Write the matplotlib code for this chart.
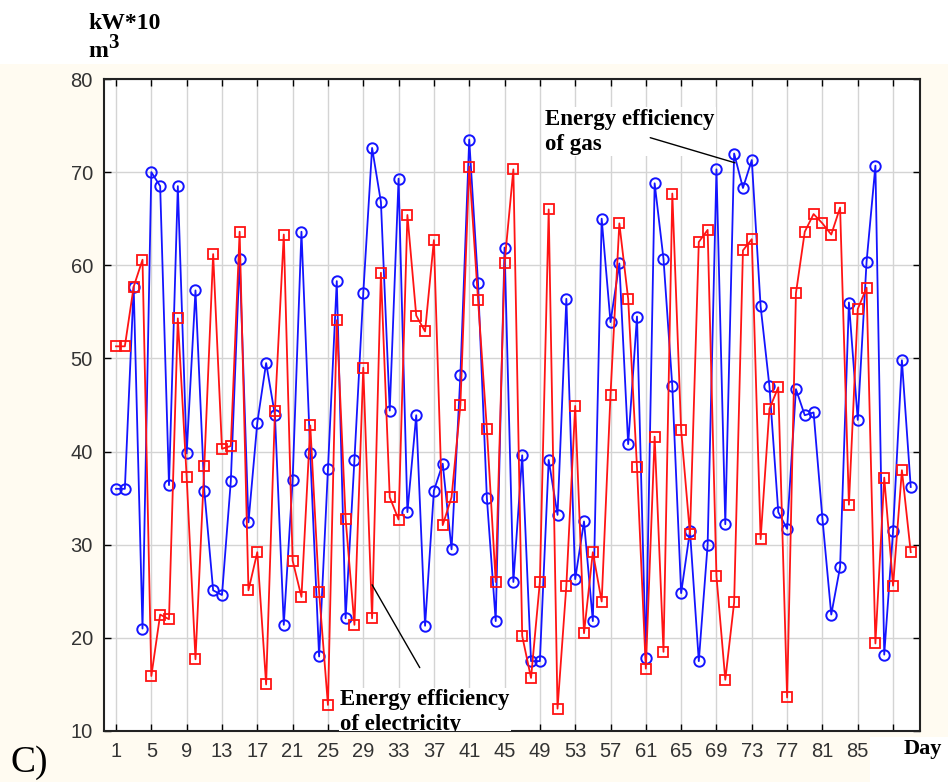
import matplotlib
matplotlib.use("Agg")
import matplotlib.pyplot as plt
from matplotlib.patches import Rectangle

days = list(range(1, 92))
gas = [36.0, 36.0, 57.7, 21.0, 70.0, 68.5, 36.4, 68.5, 39.8, 57.3,
       35.8, 25.1, 24.6, 36.8, 60.7, 32.4, 43.1, 49.5, 43.9, 21.4,
       36.9, 63.6, 39.8, 18.0, 38.1, 58.3, 22.1, 39.1, 57.0, 72.6,
       66.8, 44.4, 69.3, 33.5, 43.9, 21.3, 35.8, 38.7, 29.5, 48.2,
       73.5, 58.1, 35.0, 21.8, 61.9, 26.0, 39.6, 17.5, 17.5, 39.1,
       33.2, 56.4, 26.3, 32.5, 21.8, 65.0, 53.9, 60.2, 40.8, 54.5,
       17.8, 68.8, 60.7, 47.0, 24.8, 31.5, 17.5, 30.0, 70.3, 32.2,
       72.0, 68.3, 71.3, 55.6, 47.0, 33.5, 31.7, 46.7, 43.9, 44.2,
       32.8, 22.5, 27.6, 56.0, 43.4, 60.4, 70.7, 18.2, 31.5, 49.8,
       36.2]
electricity = [51.3, 51.3, 57.7, 60.6, 15.9, 22.5, 22.0, 54.3, 37.3, 17.7,
               38.5, 61.2, 40.3, 40.6, 63.6, 25.1, 29.2, 15.0, 44.4, 63.3,
               28.3, 24.4, 42.8, 24.9, 12.8, 54.1, 32.8, 21.4, 49.0, 22.1,
               59.2, 35.1, 32.7, 65.4, 54.6, 52.9, 62.7, 32.1, 35.1, 45.0,
               70.6, 56.3, 42.4, 26.0, 60.2, 70.3, 20.2, 15.7, 26.0, 66.0,
               12.4, 25.6, 44.9, 20.5, 29.2, 23.9, 46.1, 64.5, 56.4, 38.3,
               16.7, 41.6, 18.5, 67.7, 42.3, 31.1, 62.5, 63.8, 26.6, 15.5,
               23.8, 61.6, 62.8, 30.6, 44.6, 46.9, 13.6, 57.0, 63.6, 65.5,
               64.5, 63.3, 66.2, 34.3, 55.3, 57.6, 19.4, 37.2, 25.6, 38.0,
               29.2]
xticks = list(range(1, 90, 4))
xticklabels = [str(t) if t <= 85 else "" for t in xticks]
yticks = list(range(10, 81, 10))

cream = "#fffbf1"
fig = plt.figure(figsize=(9.48, 7.82), dpi=100, facecolor=cream)
fig.patches.append(Rectangle((0, 1 - 64 / 782), 1, 64 / 782, transform=fig.transFigure,
                             facecolor="white", edgecolor="none", zorder=0))
fig.patches.append(Rectangle((870 / 948, 0), 78 / 948, 45 / 782, transform=fig.transFigure,
                             facecolor="white", edgecolor="none", zorder=0))

ax = fig.add_axes([104 / 948, 1 - 731 / 782, (920 - 104) / 948, (731 - 79) / 782])
ax.set_facecolor("white")

ax.plot(days, gas, color="#1414ff", lw=1.3, marker="o", ms=7.5, mfc="none",
        mec="#1414ff", mew=1.4, zorder=3)
ax.plot(days, electricity, color="#ff1414", lw=1.3, marker="s", ms=7.5, mfc="none",
        mec="#ff1414", mew=1.3, zorder=3)

ax.set_xlim(-0.36, 92.05)
ax.set_ylim(10, 80)
ax.set_xticks(xticks)
ax.set_xticklabels(xticklabels)
ax.set_yticks(yticks)
ax.grid(True, color="#d4d4d4", lw=1.0, zorder=0)
ax.tick_params(direction="in", length=5, width=1, top=True, right=True,
               labelsize=14.5, labelcolor="#333333", pad=8)
for lab in ax.get_xticklabels() + ax.get_yticklabels():
    lab.set_family(["Liberation Sans", "DejaVu Sans"])
for s in ax.spines.values():
    s.set_linewidth(1.5)
    s.set_color("#222222")

serif = ["Liberation Serif", "DejaVu Serif"]
ax.text(49.6, 72.4, "Energy efficiency\nof gas", fontsize=16.5, fontweight="bold",
        family=serif, ha="left", va="baseline", linespacing=1.25,
        bbox=dict(facecolor="white", edgecolor="none", pad=1), zorder=5)
ax.annotate("", xy=(71.1, 71.0), xytext=(61.5, 73.7),
            arrowprops=dict(arrowstyle="-", color="black", lw=1.0,
                            shrinkA=0, shrinkB=0), zorder=5)
ax.text(26.4, 10.1, "Energy efficiency\nof electricity", fontsize=16.5, fontweight="bold",
        family=serif, ha="left", va="baseline", linespacing=1.25,
        bbox=dict(facecolor="white", edgecolor="none", pad=1), zorder=5, clip_on=True)
ax.annotate("", xy=(30.0, 25.7), xytext=(35.4, 16.8),
            arrowprops=dict(arrowstyle="-", color="black", lw=1.0,
                            shrinkA=0, shrinkB=0), zorder=5)

fig.text(88 / 948, 1 - 29 / 782, "kW*10", fontsize=17, fontweight="bold", family=serif,
         ha="left", va="baseline")
fig.text(88 / 948, 1 - 57 / 782, "m", fontsize=17, fontweight="bold", family=serif,
         ha="left", va="baseline")
fig.text(108 / 948, 1 - 48 / 782, "3", fontsize=15, fontweight="bold", family=serif,
         ha="left", va="baseline")
fig.text(904 / 948, 1 - 754 / 782, "Day", fontsize=16, fontweight="bold", family=serif,
         ha="left", va="baseline")
fig.text(10 / 948, 1 - 772 / 782, "C)", fontsize=27, family=serif,
         ha="left", va="baseline")

fig.savefig("out.png", dpi=100, facecolor=fig.get_facecolor())
